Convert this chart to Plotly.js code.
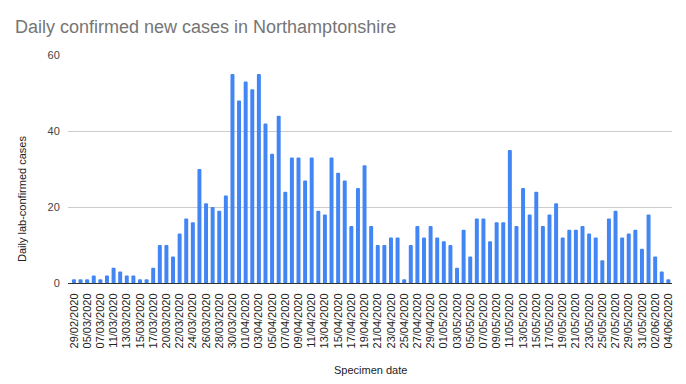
<!DOCTYPE html>
<html>
<head>
<meta charset="utf-8">
<script src="https://cdn.plot.ly/plotly-3.0.1.min.js"></script>
<style>html,body{margin:0;padding:0;background:#fff;}#chart{width:686px;height:384px;}</style>
</head>
<body>
<div id="chart"></div>
<script>
const specimenDates = [
"29/02/2020","03/03/2020","05/03/2020","06/03/2020","07/03/2020","09/03/2020","11/03/2020","12/03/2020",
"13/03/2020","14/03/2020","15/03/2020","16/03/2020","17/03/2020","18/03/2020",
"20/03/2020","21/03/2020","22/03/2020","23/03/2020","24/03/2020","25/03/2020","26/03/2020","27/03/2020",
"28/03/2020","29/03/2020","30/03/2020","31/03/2020",
"01/04/2020","02/04/2020","03/04/2020","04/04/2020","05/04/2020","06/04/2020","07/04/2020","08/04/2020",
"09/04/2020","10/04/2020","11/04/2020","12/04/2020","13/04/2020","14/04/2020","15/04/2020","16/04/2020",
"17/04/2020","18/04/2020","19/04/2020","20/04/2020","21/04/2020","22/04/2020","23/04/2020","24/04/2020",
"25/04/2020","26/04/2020","27/04/2020","28/04/2020","29/04/2020","30/04/2020",
"01/05/2020","02/05/2020","03/05/2020","04/05/2020","05/05/2020","06/05/2020","07/05/2020","08/05/2020",
"09/05/2020","10/05/2020","11/05/2020","12/05/2020","13/05/2020","14/05/2020","15/05/2020","16/05/2020",
"17/05/2020","18/05/2020","19/05/2020","20/05/2020","21/05/2020","22/05/2020","23/05/2020","24/05/2020",
"25/05/2020","26/05/2020","27/05/2020","28/05/2020","29/05/2020","30/05/2020","31/05/2020",
"01/06/2020","02/06/2020","03/06/2020","04/06/2020"
];
const dailyCases = [
1,1,1,2,1,2,4,3,2,2,1,1,4,10,
10,7,13,17,16,30,21,20,19,23,55,48,
53,51,55,42,34,44,24,33,33,27,33,19,18,33,29,27,15,25,31,15,10,10,12,12,1,10,15,12,15,12,
11,10,4,14,7,17,17,11,16,16,35,15,25,18,24,15,18,21,12,14,14,15,13,12,6,17,19,12,13,14,9,
18,7,3,1
];
const yTicks = [0, 20, 40, 60];
const xTickLabels = specimenDates.filter((d, i) => i % 2 === 0);

const chartTitle = "Daily confirmed new cases in Northamptonshire";
const yTitle = "Daily lab-confirmed cases";
const xTitle = "Specimen date";

const trace = {
  type: "bar",
  x: specimenDates,
  y: dailyCases,
  marker: {color: "#4285F4", cornerradius: 2},
  hoverinfo: "x+y"
};

const layout = {
  width: 686, height: 384,
  margin: {l: 68, r: 14, t: 55, b: 101, pad: 0},
  paper_bgcolor: "#fff", plot_bgcolor: "#fff",
  font: {family: "Arial, 'Liberation Sans', sans-serif", color: "#222"},
  bargap: 0.4,
  showlegend: false,
  title: {
    text: chartTitle,
    font: {size: 18, color: "#757575", family: "Arial, 'Liberation Sans', sans-serif"},
    x: 15/686, xref: "container", xanchor: "left",
    y: 1 - 27/384, yref: "container", yanchor: "middle"
  },
  xaxis: {
    type: "category",
    range: [-0.9, 90.55],
    tickmode: "array",
    tickvals: xTickLabels,
    ticktext: xTickLabels,
    tickangle: -90,
    tickfont: {size: 11, color: "#222"},
    ticks: "outside", ticklen: 5, tickcolor: "rgba(0,0,0,0)",
    showgrid: false,
    showline: true, linecolor: "#333", linewidth: 1,
    title: {text: ""}
  },
  yaxis: {
    range: [0, 60],
    tickmode: "array",
    tickvals: yTicks,
    tickfont: {size: 11, color: "#444"},
    ticks: "outside", ticklen: 5, tickcolor: "rgba(0,0,0,0)",
    showgrid: true, gridcolor: "#cccccc", gridwidth: 1,
    zeroline: false, showline: false,
    title: {text: ""}
  },
  annotations: [
    {
      text: yTitle, textangle: -90,
      xref: "paper", yref: "paper",
      x: (22 - 68) / 604, y: (283 - 199) / 228,
      xanchor: "center", yanchor: "middle",
      showarrow: false,
      font: {size: 11, color: "#222"}
    },
    {
      text: xTitle,
      xref: "paper", yref: "paper",
      x: 0.5, y: (283 - 370) / 228,
      xanchor: "center", yanchor: "middle",
      showarrow: false,
      font: {size: 11, color: "#222"}
    }
  ]
};

Plotly.newPlot("chart", [trace], layout, {displayModeBar: false, staticPlot: true});
</script>
</body>
</html>
